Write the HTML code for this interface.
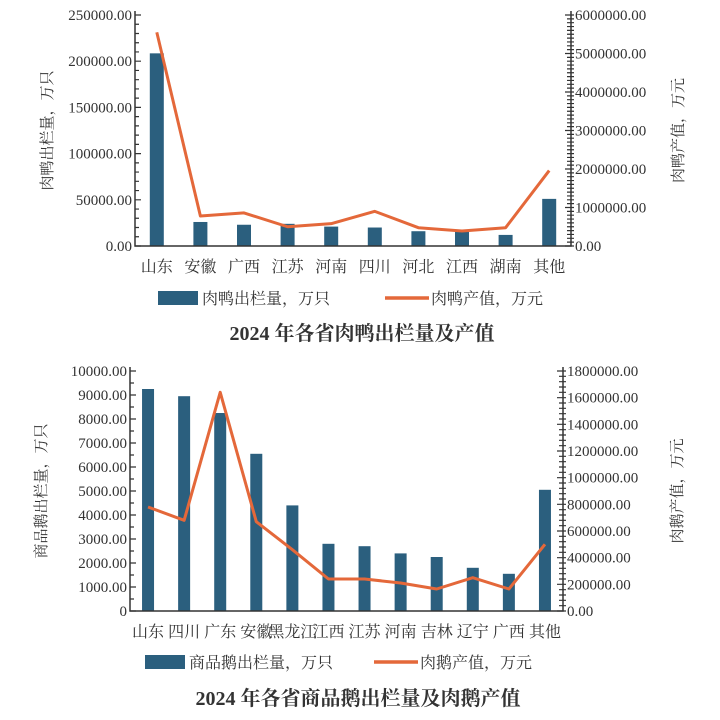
<!DOCTYPE html>
<html><head><meta charset="utf-8"><style>
html,body{margin:0;padding:0;background:#fff;}
svg{display:block;}
text{font-family:"Liberation Serif","Noto Serif CJK SC",serif;fill:#333;}
</style></head><body>
<svg id="svg" width="720" height="720" viewBox="0 0 720 720" xmlns="http://www.w3.org/2000/svg"></svg>
<script>
// Chart 1 data
const duckCats = ["山东","安徽","广西","江苏","河南","四川","河北","江西","湖南","其他"];
const duckBars = [208500,26000,23000,24000,21000,20000,16000,16000,12000,51000];
const duckLine = [5550000,780000,860000,500000,580000,900000,475000,390000,475000,1960000];
const duckLeftTicks = ["0.00","50000.00","100000.00","150000.00","200000.00","250000.00"];
const duckRightTicks = ["0.00","1000000.00","2000000.00","3000000.00","4000000.00","5000000.00","6000000.00"];
// Chart 2 data
const gooseCats = ["山东","四川","广东","安徽","黑龙江","江西","江苏","河南","吉林","辽宁","广西","其他"];
const gooseBars = [9250,8950,8250,6550,4400,2800,2700,2400,2250,1800,1550,5050];
const gooseLine = [780000,680000,1640000,670000,460000,240000,240000,210000,165000,250000,165000,500000];
const gooseLeftTicks = ["0","1000.00","2000.00","3000.00","4000.00","5000.00","6000.00","7000.00","8000.00","9000.00","10000.00"];
const gooseRightTicks = ["0.00","200000.00","400000.00","600000.00","800000.00","1000000.00","1200000.00","1400000.00","1600000.00","1800000.00"];

const NS="http://www.w3.org/2000/svg";
const svg=document.getElementById('svg');
function mk(tag,attrs,parent,txt){const e=document.createElementNS(NS,tag);for(const k in attrs)e.setAttribute(k,attrs[k]);if(txt!==undefined)e.textContent=txt;(parent||svg).appendChild(e);return e;}

function chart(o){
  const g=mk('g',{});
  
  
  const lMax=parseFloat(o.lt[o.lt.length-1]), rMax=parseFloat(o.rt[o.rt.length-1]);
  const yL=v=>o.y0-(v/lMax)*(o.y0-o.y1);
  const yR=v=>o.y0-(v/rMax)*(o.y0-o.y1);
  const step=(o.xr-o.xl)/o.cats.length;
  const xC=i=>o.xl+step*(i+0.5);
  // bars
  o.bars.forEach((v,i)=>{
    const r=mk('rect',{x:xC(i)-o.bw/2,y:yL(v),width:o.bw,height:o.y0-yL(v),fill:'#2b5f7e'},g);
    
    
  });
  // line
  const pts=o.line.map((v,i)=>xC(i)+','+yR(v)).join(' ');
  const pl=mk('polyline',{points:pts,fill:'none',stroke:'#e4683a','stroke-width':3,'stroke-linejoin':'round'},g);
  
  
  // axes
  const ax=mk('path',{d:`M${o.xl},${o.y1-4}V${o.y0}H${o.xr}V${o.y1-4}`,fill:'none',stroke:'#333','stroke-width':1.5},g);
  
  
  // minor ticks
  let d='';
  const nl=(o.lt.length-1)*o.lminor;
  for(let k=0;k<=nl;k++){const y=o.y0-k*(o.y0-o.y1)/nl;const len=k%o.lminor===0?6:4;d+=`M${o.xl},${y}h${len}`;}
  const nr=(o.rt.length-1)*o.rminor;
  for(let k=0;k<=nr;k++){const y=o.y0-k*(o.y0-o.y1)/nr;const len=k%o.rminor===0?6:4;d+=`M${o.xr-len},${y}h${len+3}`;}
  mk('path',{d:d,stroke:'#333','stroke-width':1.2},g);
  o.lt.forEach((t,i)=>{const e=mk('text',{x:o.xl-3,y:yL(parseFloat(t))+5,'text-anchor':'end','font-size':o.fs},g,t);
    });
  o.rt.forEach((t,i)=>{const e=mk('text',{x:o.xr+4,y:yR(parseFloat(t))+5,'text-anchor':'start','font-size':o.fs},g,t);
    });
  o.cats.forEach((c,i)=>{const e=mk('text',{x:xC(i),y:o.y0+26,'text-anchor':'middle','font-size':16},g,c);
    });
  const lt=mk('text',{transform:`translate(${o.ltx},${(o.y0+o.y1)/2}) rotate(-90)`,'text-anchor':'middle','font-size':15},g,o.ltitle);
  
  const rt=mk('text',{transform:`translate(${o.rtx},${(o.y0+o.y1)/2}) rotate(-90)`,'text-anchor':'middle','font-size':15},g,o.rtitle);
  
  // legend
  const lb=mk('rect',{x:o.legX,y:o.legY-7,width:40,height:14,fill:'#2b5f7e'},g);
  
  const l1=mk('text',{x:o.legX+44,y:o.legY+6,'font-size':16},g,o.leg1);
  
  const ll=mk('line',{x1:o.legX2,x2:o.legX2+44,y1:o.legY,y2:o.legY,stroke:'#e4683a','stroke-width':3.5},g);
  
  const l2=mk('text',{x:o.legX2+46,y:o.legY+6,'font-size':16},g,o.leg2);
  
  const ti=mk('text',{x:o.titleX,y:o.titleY,'text-anchor':'middle','font-size':20,'font-weight':'bold'},g,o.title);
  
}

chart({name:'duck-chart',cats:duckCats,bars:duckBars,line:duckLine,lt:duckLeftTicks,rt:duckRightTicks,
  xl:135,xr:571,y0:246,y1:15,bw:14,fs:15,lminor:5,rminor:10,ltx:52,rtx:683,
  ltitle:'肉鸭出栏量，万只',rtitle:'肉鸭产值，万元',
  legX:158,legY:298,legX2:385,leg1:'肉鸭出栏量，万只',leg2:'肉鸭产值，万元',
  title:'2024 年各省肉鸭出栏量及产值',titleX:362,titleY:340});
chart({name:'goose-chart',cats:gooseCats,bars:gooseBars,line:gooseLine,lt:gooseLeftTicks,rt:gooseRightTicks,
  xl:130,xr:563,y0:611,y1:371,bw:12,fs:15,lminor:2,rminor:5,ltx:46,rtx:682,
  ltitle:'商品鹅出栏量，万只',rtitle:'肉鹅产值，万元',
  legX:145,legY:662,legX2:374,leg1:'商品鹅出栏量，万只',leg2:'肉鹅产值，万元',
  title:'2024 年各省商品鹅出栏量及肉鹅产值',titleX:358,titleY:705});
</script>
</body></html>
